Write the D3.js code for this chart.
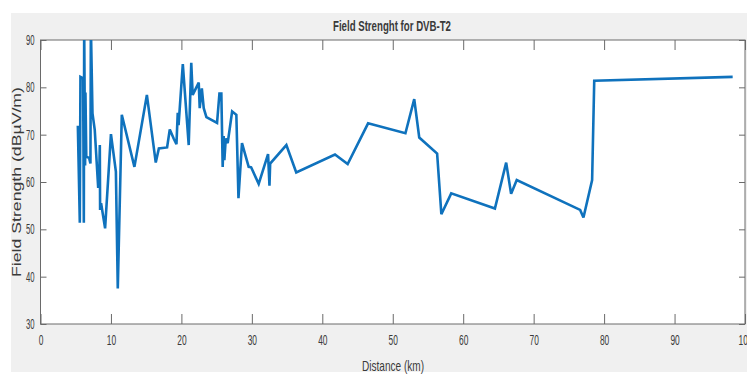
<!DOCTYPE html>
<html>
<head>
<meta charset="utf-8">
<script src="https://cdn.jsdelivr.net/npm/d3@7"></script>
<style>
  html, body { margin: 0; padding: 0; background: #ffffff; }
  svg { display: block; }
  text { font-family: "Liberation Sans", Arial, sans-serif; fill: #3a3a3a; }
</style>
</head>
<body>
<svg id="chart" width="747" height="376"></svg>
<script>
// Measured field strength along the drive route
const distanceKm = [5.3, 5.58, 5.67, 6.05, 6.15, 6.2, 6.33, 6.38, 6.5, 6.9, 7.09, 7.15, 7.38, 7.7,
  8.18, 8.3, 8.42, 8.46, 8.6, 9.17, 10.0, 10.7, 10.97, 11.54, 13.33, 15.1, 16.36, 16.8, 17.97,
  18.35, 18.9, 19.3, 19.48, 19.6, 20.2, 21.04, 21.4, 21.6, 22.46, 22.6, 22.9, 23.17, 23.55,
  25.06, 25.4, 25.67, 25.86, 26.0, 26.1, 26.3, 26.57, 27.2, 27.8, 28.1, 28.6, 29.55, 29.9,
  30.97, 32.3, 32.5, 32.6, 34.9, 36.3, 41.8, 43.6, 46.5, 51.8, 53.05, 53.76, 56.3, 56.9,
  58.3, 64.5, 66.1, 66.8, 67.6, 76.6, 77.07, 78.3, 78.6, 98.25];
const fieldStrength = [71.9, 51.4, 82.2, 81.9, 51.4, 93, 63.5, 78.9, 65.3, 65.1, 63.9, 93, 74.5, 71,
  59, 59, 67.8, 54.1, 55.5, 50.2, 70.1, 62.2, 37.5, 74.2, 63.2, 78.4, 64.1, 67.1, 67.3,
  71.1, 69.2, 68.0, 74.6, 72.0, 84.9, 67.8, 85.2, 78.4, 81.0, 75.6, 79.8, 75.6, 73.7,
  72.5, 78.7, 78.7, 63.2, 69.7, 64.6, 69.2, 68.2, 74.9, 74.2, 56.6, 68.2, 63.2, 63.1,
  59.6, 65.9, 59.2, 63.9, 67.8, 62.0, 65.8, 63.8, 72.4, 70.3, 77.5, 69.4, 66.0, 53.2,
  57.6, 54.4, 64.1, 57.5, 60.4, 54.1, 52.5, 60.4, 81.4, 82.2];
const xTicks = [0, 10, 20, 30, 40, 50, 60, 70, 80, 90, 100];
const yTicks = [30, 40, 50, 60, 70, 80, 90];

const titleText = "Field Strenght for DVB-T2";
const xLabel = "Distance (km)";
const yLabel = "Field Strength (dB\u00B5V/m)";

const svg = d3.select("#chart");
const W = 747, H = 376;
const plotL = 40.5, plotR = 745, plotT = 40, plotB = 324;

// figure background
svg.append("rect").attr("x", 11).attr("y", 13).attr("width", W - 11).attr("height", 359)
  .attr("fill", "#f0f0f0");

const x = d3.scaleLinear().domain([0, 100]).range([plotL, plotR]);
const y = d3.scaleLinear().domain([30, 90]).range([plotB, plotT]);

// axes area
svg.append("rect").attr("x", plotL).attr("y", plotT)
  .attr("width", plotR - plotL).attr("height", plotB - plotT).attr("fill", "#ffffff");

svg.append("clipPath").attr("id", "plotClip").append("rect")
  .attr("x", plotL).attr("y", plotT).attr("width", plotR - plotL).attr("height", plotB - plotT);

// condense text horizontally like the figure font
function squeeze(sel, factor) {
  sel.each(function () {
    const len = this.getComputedTextLength();
    d3.select(this).attr("textLength", len * factor).attr("lengthAdjust", "spacingAndGlyphs");
  });
}

const axisColor = "#6a6a6a";
const tickLenX = 10, tickLenY = 6;

// bottom axis
const gx = svg.append("g").attr("transform", `translate(0,${plotB})`)
  .call(d3.axisBottom(x).tickValues(xTicks).tickSize(-tickLenX).tickPadding(16).tickFormat(d3.format("d")));
// top mirrored ticks
const gxt = svg.append("g").attr("transform", `translate(0,${plotT})`)
  .call(d3.axisTop(x).tickValues(xTicks).tickSize(-tickLenX).tickFormat(""));
// left axis
const gy = svg.append("g").attr("transform", `translate(${plotL},0)`)
  .call(d3.axisLeft(y).tickValues(yTicks).tickSize(-tickLenY).tickPadding(6).tickFormat(d3.format("d")));
// right mirrored ticks
const gyr = svg.append("g").attr("transform", `translate(${plotR},0)`)
  .call(d3.axisRight(y).tickValues(yTicks).tickSize(-tickLenY).tickFormat(""));

[gx, gxt, gy, gyr].forEach(g => {
  g.select(".domain").remove();
  g.selectAll(".tick line").attr("stroke", axisColor).attr("stroke-width", 1);
  g.selectAll(".tick text").attr("fill", "#3a3a3a").style("font-size", "14px")
    .style("font-family", "'Liberation Sans', Arial, sans-serif");
});
gx.selectAll(".tick text").attr("dy", "0.35em");
squeeze(gx.selectAll(".tick text"), 0.6);
squeeze(gy.selectAll(".tick text"), 0.55);

// axes box
svg.append("rect").attr("x", plotL).attr("y", plotT)
  .attr("width", plotR - plotL).attr("height", plotB - plotT)
  .attr("fill", "none").attr("stroke", axisColor).attr("stroke-width", 1);

// data line
const line = d3.line().x((d, i) => x(distanceKm[i])).y(d => y(d));
svg.append("path").datum(fieldStrength)
  .attr("clip-path", "url(#plotClip)")
  .attr("d", line)
  .attr("fill", "none").attr("stroke", "#0f72bd").attr("stroke-width", 2.6)
  .attr("stroke-linejoin", "miter").attr("stroke-miterlimit", 3);

// title
svg.append("text").attr("x", 392).attr("y", 31).attr("text-anchor", "middle")
  .style("font-size", "15px").style("font-weight", "bold").attr("fill", "#1a1a1a").text(titleText)
  .attr("textLength", 118).attr("lengthAdjust", "spacingAndGlyphs");

// x label
svg.append("text").attr("x", 393).attr("y", 371).attr("text-anchor", "middle")
  .style("font-size", "15px").text(xLabel)
  .attr("textLength", 62).attr("lengthAdjust", "spacingAndGlyphs");

// y label
svg.append("text").attr("transform", `translate(21,182) rotate(-90)`).attr("text-anchor", "middle")
  .style("font-size", "12px").text(yLabel)
  .attr("textLength", 190).attr("lengthAdjust", "spacingAndGlyphs");
</script>
</body>
</html>
